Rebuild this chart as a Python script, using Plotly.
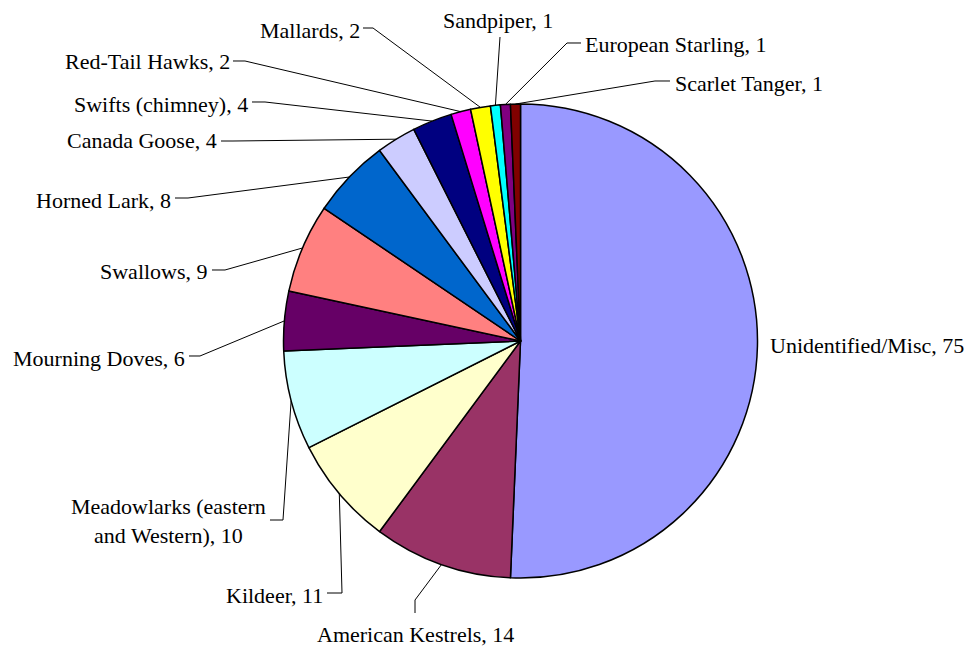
import math
import plotly.graph_objects as go

# ---- data ----
categories = ["Unidentified/Misc", "American Kestrels", "Kildeer",
              "Meadowlarks (eastern<br>and Western)", "Mourning Doves", "Swallows",
              "Horned Lark", "Canada Goose", "Swifts (chimney)", "Red-Tail Hawks",
              "Mallards", "Sandpiper", "European Starling", "Scarlet Tanger"]
counts = [75, 14, 11, 10, 6, 9, 8, 4, 4, 2, 2, 1, 1, 1]
colors = ["#9999FF", "#993366", "#FFFFCC", "#CCFFFF", "#660066", "#FF8080",
          "#0066CC", "#CCCCFF", "#000080", "#FF00FF", "#FFFF00", "#00FFFF",
          "#800080", "#800000"]

# ---- layout (page pixels) ----
W, H = 966, 647
CX, CY, R = 520.5, 341.0, 237.0

# label placement: (x, y, xanchor)
label_pos = [
    (768, 345, "left"),
    (415, 634, "center"),
    (325, 595, "right"),
    (168, 521, "center"),
    (187, 358, "right"),
    (210, 271, "right"),
    (173, 200, "right"),
    (219, 141, "right"),
    (250, 104, "right"),
    (232, 62, "right"),
    (362, 30, "right"),
    (498, 20, "center"),
    (583, 45, "left"),
    (673, 83, "left"),
]
# leader line: points from label towards slice (None = no line)
leader_pts = [
    None,
    [(415, 613), (415, 600)],
    [(327, 593), (342, 593)],
    [(270, 520), (283, 520)],
    [(189, 356), (200, 356)],
    [(212, 270), (225, 270)],
    [(175, 198), (188, 198)],
    [(221, 141), (233, 141)],
    [(252, 102), (265, 102)],
    [(233, 61), (245, 61)],
    [(363, 28), (373, 28)],
    [(500, 37)],
    [(581, 43), (567, 43)],
    [(670, 81), (655, 81)],
]


def px(x):
    return x / W


def py(y):
    return 1 - y / H


fig = go.Figure()
fig.add_trace(go.Pie(
    labels=categories, values=counts, sort=False, direction="clockwise",
    rotation=0, textinfo="none", hoverinfo="label+value",
    marker=dict(colors=colors, line=dict(color="black", width=1.5)),
    domain=dict(x=[px(CX - R), px(CX + R)], y=[py(CY + R), py(CY - R)]),
    showlegend=False,
))

total = sum(counts)
cum = 0
annotations = []
shapes = []
for name, v, (lx, ly, anc), pts in zip(categories, counts, label_pos, leader_pts):
    mid = (cum + v / 2) / total * 2 * math.pi
    cum += v
    ax_ = CX + R * math.sin(mid)
    ay_ = CY - R * math.cos(mid)
    annotations.append(dict(
        x=px(lx), y=py(ly), xref="paper", yref="paper", xanchor=anc,
        yanchor="middle", showarrow=False, align="center",
        text=f"{name}, {v}",
        font=dict(family="Liberation Serif, Times New Roman, serif", size=22, color="black"),
    ))
    if pts:
        allp = list(pts) + [(ax_, ay_)]
        path = "M " + " L ".join(f"{px(x):.5f} {py(y):.5f}" for x, y in allp)
        shapes.append(dict(type="path", xref="paper", yref="paper", path=path,
                           line=dict(color="black", width=1)))

fig.update_layout(
    width=W, height=H, margin=dict(l=0, r=0, t=0, b=0),
    paper_bgcolor="white", plot_bgcolor="white",
    annotations=annotations, shapes=shapes,
)
fig.write_html(
    "out.html",
    config={"displayModeBar": False},
    post_script="document.body.style.margin='0';document.body.style.overflow='hidden';",
)
